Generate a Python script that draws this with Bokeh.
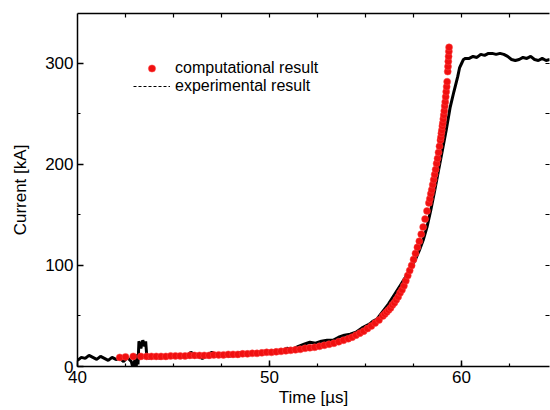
from bokeh.plotting import figure
from bokeh.models import (Range1d, SingleIntervalTicker, FixedTicker, LinearAxis,
                          Legend, LegendItem, ColumnDataSource)
from bokeh.embed import file_html
from bokeh.resources import INLINE

# experimental result (black line): time [us], current [kA]
exp_t = [40.0, 40.2, 40.4, 40.6, 40.8, 41.0, 41.2, 41.4, 41.6, 41.8, 42.0, 42.2, 42.4,
         42.6, 42.8, 42.9, 43.0, 43.05, 43.1, 43.15, 43.2, 43.3, 43.4, 43.5, 43.55,
         43.6, 43.7, 43.9, 44.1, 44.3,
         44.5, 44.8, 45.0, 45.3, 45.6, 45.9, 46.2, 46.5, 46.8, 47.0, 47.3, 47.6, 47.9,
         48.2, 48.5, 48.8, 49.1, 49.4, 49.7, 50.0, 50.3, 50.6, 50.9, 51.2, 51.5, 51.8,
         52.1, 52.4, 52.7, 53.0, 53.3, 53.6, 53.9, 54.2, 54.5, 54.8, 55.0, 55.2, 55.4,
         55.6, 55.8, 56.0, 56.2, 56.4, 56.6, 56.8, 57.0, 57.2, 57.4, 57.6, 57.8, 58.0,
         58.2, 58.4, 58.6, 58.8, 59.0, 59.2, 59.4, 59.6, 59.8, 59.9, 60.0, 60.1, 60.2,
         60.4, 60.6, 60.8, 61.0, 61.2, 61.4, 61.6, 61.8, 62.0, 62.2, 62.4, 62.6, 62.8,
         63.0, 63.2, 63.4, 63.6, 63.8, 64.0, 64.2, 64.4, 64.6]
exp_i = [6, 9, 8, 11, 9, 7, 10, 8, 6, 9, 7, 8, 5,
         9, 5, -2, 8, -3, 12, 2, 25, 18, 26, 20, 25,
         12, 8, 9, 10, 8,
         11, 9, 10, 12, 9, 14, 11, 8, 12, 14, 11, 13, 10,
         12, 14, 12, 13, 12, 15, 14, 16, 15, 18, 17, 20, 22,
         24, 23, 25, 26, 26, 29, 31, 32, 34, 38, 40, 42, 45,
         47, 52, 57, 62, 68, 74, 80, 86, 92, 99, 106, 115, 125,
         138, 155, 174, 194, 214, 234, 256, 272, 287, 296, 300, 304, 305,
         305, 307, 306, 309, 308, 310, 310, 309, 310, 309, 307, 304, 303,
         304, 306, 305, 307, 304, 303, 305, 303, 304]

# computational result (red markers)
comp_t = [42.2, 42.5, 42.9, 43.3, 43.6, 43.85, 44.1, 44.35, 44.6, 44.85, 45.1, 45.35,
          45.6, 45.85, 46.1, 46.35, 46.6, 46.85, 47.1, 47.35, 47.6, 47.85, 48.1, 48.35,
          48.6, 48.85, 49.1, 49.35, 49.6, 49.85, 50.1, 50.35, 50.6, 50.85, 51.1, 51.35,
          51.6, 51.85, 52.1, 52.35, 52.6, 52.85, 53.1, 53.35, 53.6, 53.85, 54.1, 54.3,
          54.5, 54.7, 54.9, 55.1, 55.3, 55.5, 55.7, 55.9, 56.0, 56.1, 56.2, 56.3, 56.4,
          56.5, 56.6, 56.7, 56.8, 56.9, 57.0, 57.1, 57.2, 57.3, 57.4, 57.5, 57.6, 57.7,
          57.8, 57.9, 58.0, 58.1, 58.2, 58.3, 58.35, 58.4, 58.45, 58.5, 58.55, 58.6,
          58.65, 58.7, 58.75, 58.8, 58.85, 58.9, 58.925, 58.95, 58.975, 59.0, 59.025,
          59.05, 59.075, 59.1, 59.125, 59.15, 59.175, 59.2, 59.225, 59.25, 59.28,
          59.295, 59.31, 59.325, 59.34, 59.35]
comp_i = [9, 9.5, 10, 10, 10, 10, 10, 10, 10, 10.5, 10.5, 10.5,
          10.5, 11, 11, 11, 11, 11, 11.5, 11.5, 11.5, 12, 12, 12,
          12.5, 12.5, 13, 13, 13.5, 14, 14, 14.5, 15, 15.5, 16, 16.5,
          17, 18, 18.5, 19, 20, 21, 22, 23, 24.5, 26, 27.5, 29,
          31, 33, 35, 37.5, 40, 43, 46, 50, 52, 54, 56, 58, 61,
          63, 66, 69, 73, 76, 80, 85, 90, 95, 100, 106, 112, 118,
          124, 131, 138, 146, 154, 162, 166, 171, 175, 180, 185, 190,
          195, 201, 206, 212, 218, 224, 227, 231, 234, 238, 241,
          245, 249, 253, 258, 262, 267, 272, 277, 282, 292,
          297, 302, 307, 312, 316]

# tick marks of the top and right frame edges (no labels there)
top_ticks = [42.5, 45, 47.5, 50, 52.5, 55, 57.5, 60, 62.5]
right_ticks = [50, 100, 150, 200, 250, 300]

legend_labels = ["computational result", "experimental result"]
x_label = "Time [µs]"
y_label = "Current [kA]"

FONT = "Liberation Sans"

p = figure(width=550, height=410, output_backend="svg", toolbar_location=None,
           x_range=Range1d(40, 64.58), y_range=Range1d(0, 349.5),
           min_border_left=77, min_border_right=1, min_border_top=13,
           min_border_bottom=44)
p.grid.visible = False
p.outline_line_color = None
p.background_fill_color = "white"
p.border_fill_color = "white"

xt = SingleIntervalTicker(interval=10, num_minor_ticks=4)
yt = SingleIntervalTicker(interval=100, num_minor_ticks=2)

for ax in p.xaxis:
    ax.ticker = xt
for ax in p.yaxis:
    ax.ticker = yt

def style_axis(ax):
    ax.axis_line_color = "black"
    ax.axis_line_width = 1.5
    ax.major_tick_line_color = "black"
    ax.major_tick_line_width = 1.5
    ax.minor_tick_line_color = "black"
    ax.minor_tick_line_width = 1.2
    ax.major_tick_in = 6
    ax.major_tick_out = 0
    ax.minor_tick_in = 3
    ax.minor_tick_out = 0
    ax.major_label_text_font = FONT
    ax.major_label_text_font_size = "17px"
    ax.major_label_text_color = "black"
    ax.axis_label_text_font = FONT
    ax.axis_label_text_font_size = "17px"
    ax.axis_label_text_font_style = "normal"
    ax.axis_label_text_color = "black"

for ax in p.xaxis:
    style_axis(ax)
    ax.axis_label = x_label
    ax.major_label_standoff = 4
    ax.axis_label_standoff = 2
for ax in p.yaxis:
    style_axis(ax)
    ax.axis_label = y_label
    ax.major_label_standoff = 4
    ax.axis_label_standoff = 12

top = LinearAxis(ticker=FixedTicker(ticks=[], minor_ticks=top_ticks))
style_axis(top)
top.minor_tick_in = 4
p.add_layout(top, "above")

right = LinearAxis(ticker=FixedTicker(ticks=[], minor_ticks=right_ticks))
style_axis(right)
right.minor_tick_in = 4
right.axis_line_color = None
p.add_layout(right, "right")

src_exp = ColumnDataSource(dict(t=exp_t, i=exp_i))
src_comp = ColumnDataSource(dict(t=comp_t, i=comp_i))

p.line("t", "i", source=src_exp, line_color="black", line_width=3)
red = p.scatter("t", "i", source=src_comp, size=7, fill_color="#f01010",
                line_color="#ff4444", line_width=0.5)

# dashed line used only as the legend symbol for the experimental result
dummy = p.line(x=[float("nan")], y=[float("nan")], line_color="black",
               line_width=1, line_dash="3 2")

legend = Legend(items=[LegendItem(label=legend_labels[0], renderers=[red]),
                       LegendItem(label=legend_labels[1], renderers=[dummy])],
                location=(56, 271), glyph_width=37, glyph_height=18,
                label_height=18, label_standoff=5, spacing=0, padding=0,
                margin=0, border_line_color=None, background_fill_alpha=0,
                label_text_font=FONT, label_text_font_size="16px",
                label_text_color="black")
p.add_layout(legend)

open("out.html", "w").write(file_html(p, INLINE))
